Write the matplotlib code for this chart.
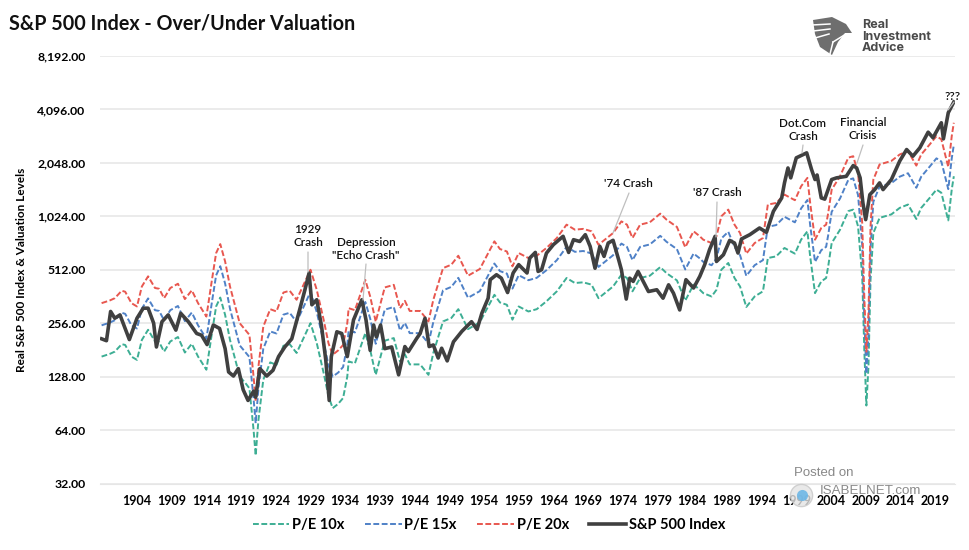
import matplotlib
matplotlib.use("Agg")
import matplotlib.pyplot as plt
from matplotlib.patches import Polygon

# Real S&P 500 index
sp_years = [
    1898.9, 1899.6, 1900.2, 1900.8, 1901.55, 1902.3, 1902.9, 1904, 1904.9, 1905.6, 1906.4, 1906.8, 1907.6, 1908.5,
    1909.6, 1910.3, 1911.4, 1912.6, 1913.3, 1914.1, 1915, 1915.9, 1916.7, 1917.2, 1917.9, 1918.6, 1919.3, 1920,
    1920.8, 1921.1, 1921.7, 1922.7, 1923.6, 1924.4, 1925.3, 1926.3, 1927.5, 1928.2, 1928.8, 1929.2, 1929.9, 1930.6,
    1931.2, 1931.7, 1932, 1932.8, 1933.5, 1934.3, 1935.2, 1936.4, 1937, 1937.6, 1938.1, 1938.5, 1939.1, 1939.7,
    1940.7, 1941.7, 1942.6, 1943.1, 1944.3, 1944.8, 1945.5, 1946.1, 1946.7, 1947.4, 1947.9, 1948.7, 1949.6, 1950.8,
    1952.2, 1953, 1953.7, 1954.6, 1954.9, 1955.8, 1956.5, 1957.4, 1958.2, 1959, 1960.2, 1960.6, 1961.4, 1961.8,
    1962.3, 1963, 1964, 1965.4, 1966.2, 1966.9, 1967.8, 1968.6, 1969.3, 1970, 1970.7, 1971.3, 1971.9, 1972.6,
    1973.4, 1973.8, 1974.5, 1975, 1975.5, 1976.2, 1977.7, 1978.9, 1979.8, 1980.6, 1981.3, 1982.2, 1983.1, 1984.2,
    1985.1, 1985.8, 1986.5, 1987.3, 1987.5, 1988.5, 1989.4, 1990.1, 1990.6, 1991.1, 1992.3, 1993.7, 1994.7, 1995.7,
    1996.9, 1997.3, 1997.8, 1998.2, 1999, 2000.5, 2001.2, 2001.7, 2002, 2002.6, 2003.1, 2004.1, 2004.8, 2006.2,
    2007.2, 2007.7, 2008.2, 2008.6, 2009, 2009.6, 2010.3, 2011, 2011.5, 2012.7, 2013.9, 2014.9, 2015.8, 2016.8,
    2018, 2018.7, 2019.9, 2020.2, 2020.9, 2021.7,
]
sp_index = [
    209, 204, 298, 273, 285, 239, 207, 273, 311, 311, 256, 188, 261, 285,
    234, 291, 261, 224, 219, 194, 250, 239, 184, 136, 129, 142, 108, 94,
    106, 98, 142, 129, 139, 166, 188, 209, 311, 395, 491, 325, 347, 245,
    159, 94, 166, 229, 224, 166, 267, 347, 267, 180, 250, 214, 250, 184,
    188, 131, 189, 177, 210, 224, 273, 189, 193, 163, 185, 157, 201, 230,
    261, 236, 292, 354, 450, 480, 459, 381, 491, 547, 491, 596, 641, 501,
    512, 635, 709, 790, 641, 756, 739, 807, 693, 522, 693, 609, 724, 750,
    584, 512, 350, 459, 440, 501, 386, 395, 354, 421, 378, 304, 450, 404,
    470, 547, 664, 790, 570, 622, 749, 724, 636, 763, 807, 880, 832, 1092,
    1300, 1580, 1917, 1686, 2186, 2332, 1879, 1650, 1750, 1300, 1280, 1650, 1686, 1720,
    1977, 1917, 1686, 1218, 981, 1357, 1448, 1580, 1448, 1650, 2096, 2435, 2233, 2490,
    3050, 2837, 3445, 2796, 3926, 4510,
]

# Valuation levels share the same sample years
pe_years = [
    1898.9, 1900.1, 1900.8, 1901.8, 1902.3, 1903.2, 1904, 1904.7, 1905.6, 1906.6, 1907.2, 1907.9, 1908.8, 1909.9,
    1910.9, 1911.9, 1912.8, 1914, 1914.8, 1915.4, 1916, 1916.7, 1917.4, 1918.1, 1918.8, 1919.6, 1920.2, 1920.8,
    1921.1, 1921.5, 1922.2, 1923.2, 1924.1, 1925.1, 1926, 1927, 1928, 1929, 1929.9, 1930.9, 1931.6, 1932.2,
    1933, 1933.7, 1934.3, 1934.5, 1935.4, 1936.9, 1937.6, 1938.4, 1939.7, 1941, 1941.9, 1942.6, 1943.3, 1944.8,
    1946, 1946.7, 1948.1, 1949.3, 1950.3, 1951.7, 1953.4, 1954.1, 1955.5, 1956.3, 1957.3, 1958.1, 1959, 1960.4,
    1961.6, 1963, 1964.5, 1965.9, 1967.1, 1968.3, 1969.5, 1970.5, 1972.6, 1973.8, 1974.6, 1975.4, 1976.5, 1977.9,
    1979.4, 1980.3, 1981.8, 1983, 1984.2, 1985.1, 1985.6, 1986.8, 1987.5, 1988.2, 1989.2, 1990.1, 1990.9, 1991.8,
    1993, 1994.2, 1994.9, 1996.1, 1997.3, 1998.8, 1999.7, 2000.6, 2001, 2001.7, 2002.6, 2003.3, 2003.6, 2004.1,
    2005.3, 2006.5, 2007.2, 2007.9, 2008.5, 2008.8, 2009.1, 2009.4, 2009.7, 2010.1, 2011, 2012.7, 2013.9, 2015.1,
    2016.3, 2017, 2018.2, 2019.2, 2019.9, 2020.9, 2021.4, 2021.7,
]
pe_20x = [
    332, 344, 354, 390, 385, 332, 318, 412, 470, 404, 400, 354, 404, 427,
    350, 392, 332, 279, 449, 635, 714, 570, 412, 325, 256, 235, 220, 128,
    93, 146, 245, 307, 298, 381, 390, 347, 421, 512, 395, 267, 197, 170,
    180, 193, 256, 311, 303, 449, 362, 261, 407, 421, 311, 342, 300, 300,
    262, 347, 523, 547, 614, 474, 517, 583, 740, 670, 649, 535, 636, 596,
    614, 679, 773, 919, 861, 870, 843, 708, 824, 959, 919, 773, 919, 948,
    1060, 981, 892, 685, 843, 790, 756, 724, 790, 1024, 1117, 919, 824, 631,
    724, 773, 1192, 1218, 1357, 1262, 1513, 1686, 1218, 756, 880, 919, 1070, 1448,
    1720, 2192, 2233, 1798, 939, 362, 177, 292, 900, 1647, 2006, 2100, 2283, 2386,
    1977, 2283, 2594, 2896, 2780, 1942, 2896, 3445,
]
pe_15x = [
    249, 258, 266, 293, 289, 249, 239, 309, 353, 303, 300, 266, 303, 320,
    263, 294, 249, 209, 337, 476, 536, 428, 309, 244, 192, 176, 165, 96,
    70, 110, 184, 230, 224, 286, 293, 260, 316, 384, 296, 200, 148, 128,
    135, 145, 192, 233, 227, 337, 272, 196, 305, 316, 233, 257, 225, 225,
    197, 260, 392, 410, 461, 356, 388, 437, 555, 503, 487, 401, 477, 447,
    461, 509, 580, 689, 646, 653, 632, 531, 618, 719, 689, 580, 689, 711,
    795, 736, 669, 514, 632, 593, 567, 543, 593, 768, 838, 689, 618, 473,
    543, 580, 894, 914, 1018, 947, 1135, 1265, 914, 567, 660, 689, 803, 1086,
    1290, 1644, 1675, 1349, 704, 272, 133, 219, 675, 1235, 1505, 1575, 1712, 1790,
    1483, 1712, 1946, 2172, 2085, 1457, 2172, 2584,
]
pe_10x = [
    166, 172, 177, 195, 193, 166, 159, 206, 235, 202, 200, 177, 202, 214,
    175, 196, 166, 140, 225, 318, 357, 285, 206, 163, 128, 118, 110, 64,
    46, 73, 123, 154, 149, 191, 195, 174, 211, 256, 198, 134, 99, 85,
    90, 97, 128, 156, 152, 225, 181, 131, 204, 211, 156, 171, 150, 150,
    131, 174, 262, 274, 307, 237, 259, 292, 370, 335, 325, 268, 318, 298,
    307, 340, 387, 460, 431, 435, 422, 354, 412, 480, 460, 387, 460, 474,
    530, 490, 446, 343, 422, 395, 378, 362, 395, 512, 559, 460, 412, 316,
    362, 387, 596, 609, 679, 631, 757, 843, 609, 378, 440, 460, 535, 724,
    860, 1096, 1117, 899, 470, 181, 88, 146, 450, 824, 1003, 1050, 1142, 1193,
    989, 1142, 1297, 1448, 1390, 971, 1448, 1722,
]

y_ticks = [32, 64, 128, 256, 512, 1024, 2048, 4096, 8192]
x_ticks = list(range(1904, 2020, 5))

# label, text position, leader start, leader end (pixels from the top left)
notes = [
    ("1929\nCrash", (308, 236), (308, 252), (308, 272)),
    ("Depression\n\"Echo Crash\"", (366, 249), (366, 264), (363, 300)),
    ("'74 Crash", (628, 184), (629, 193), (613, 233)),
    ("'87 Crash", (717, 193), (717, 202), (716, 237)),
    ("Dot.Com\nCrash", (803, 130), (803, 145), (802, 153)),
    ("Financial\nCrisis", (863, 129), (863, 145), (857, 163)),
    ("???", (953, 96), (954, 102), (948, 110)),
]

W, H = 970, 550
plt.rcParams["font.family"] = ["Lato", "DejaVu Sans"]


def fx(x):
    return x / W


def fy(y):
    return 1 - y / H


fig = plt.figure(figsize=(W / 100, H / 100), dpi=100)
ax = fig.add_axes([fx(100), fy(483.5), 855 / W, 427.5 / H])

dash = (0, (3, 1.3))
ax.plot(pe_years, pe_10x, color="#3DAE94", lw=1.4, ls=dash, label="P/E 10x")
ax.plot(pe_years, pe_15x, color="#4F81C7", lw=1.4, ls=dash, label="P/E 15x")
ax.plot(pe_years, pe_20x, color="#E8574F", lw=1.4, ls=dash, label="P/E 20x")
ax.plot(sp_years, sp_index, color="#404040", lw=2.6, label="S&P 500 Index")

ax.set_yscale("log", base=2)
ax.set_ylim(32, 8192)
ax.set_xlim(1898.67, 2021.87)
ax.set_yticks(y_ticks)
ax.set_yticklabels([f"{v:,.2f}" for v in y_ticks], fontsize=8.8, fontweight="bold")
ax.minorticks_off()
ax.set_xticks(x_ticks)
ax.set_xticklabels(x_ticks, fontsize=9, fontweight="bold")
ax.tick_params(axis="both", length=0)
ax.tick_params(axis="y", pad=10.5)
ax.tick_params(axis="x", pad=8.5)
ax.grid(axis="y", color="#E6E6E6", lw=1.1)
ax.set_axisbelow(True)
for side in ["top", "right", "left"]:
    ax.spines[side].set_visible(False)
ax.spines["bottom"].set_color("#E6E6E6")

fig.text(fx(22), fy(270), "Real S&P 500 Index & Valuation Levels", rotation=90,
         ha="center", va="center", fontsize=8.5, fontweight="bold")
fig.text(fx(9), fy(23), "S&P 500 Index - Over/Under Valuation", ha="left", va="center",
         fontsize=14.2, fontweight="bold", color="#111111")

fig.legend(loc="center", bbox_to_anchor=(fx(489), fy(525)), ncol=4, frameon=False,
           prop={"weight": "bold", "size": 10.5}, handlelength=2.5, columnspacing=1.4, handletextpad=0.2)

# callouts on the crashes
for label, text_xy, start, end in notes:
    fig.text(fx(text_xy[0]), fy(text_xy[1]), label, ha="center", va="center", fontsize=8.5,
             linespacing=1.25, color="#111111", fontweight="semibold")
    ax.annotate("", xy=(end[0], H - end[1]), xytext=(start[0], H - start[1]), xycoords="figure pixels",
                textcoords="figure pixels",
                arrowprops=dict(arrowstyle="-", color="#BFBFBF", lw=0.9, shrinkA=0, shrinkB=0))

# logo, top right
shield = [(813, 20), (832, 17), (846, 24), (852, 33), (845, 33), (838, 42), (832, 55), (820, 47), (815, 34)]
fig.add_artist(Polygon([(fx(x), fy(y)) for x, y in shield], closed=True, transform=fig.transFigure,
                       facecolor="#6E6E6E", edgecolor="none"))
for x0, y0, x1, y1 in [(812, 25, 830, 24), (813, 31, 830, 29), (815, 38, 829, 34), (846, 34, 833, 42), (833, 42, 830, 54)]:
    fig.add_artist(plt.Line2D([fx(x0), fx(x1)], [fy(y0), fy(y1)], color="white", lw=1.1, transform=fig.transFigure))
fig.text(fx(862), fy(36.5), "Real\nInvestment\nAdvice", ha="left", va="center", fontsize=9,
         fontweight="bold", color="#4A4A4A", linespacing=0.95, family="Inter")

# watermark, bottom right
fig.add_artist(plt.Line2D([fx(801)], [fy(495)], marker="o", markersize=16, color="#E4E4E4", alpha=0.8,
                          markeredgecolor="#C8C8C8", transform=fig.transFigure))
fig.add_artist(plt.Line2D([fx(802)], [fy(495)], marker="o", markersize=8, color="#6EB7E6", alpha=0.9,
                          markeredgecolor="none", transform=fig.transFigure))
fig.text(fx(824), fy(473), "Posted on", ha="center", va="center", fontsize=9.5, color="#888888",
         family="Liberation Sans")
fig.text(fx(820), fy(491), "ISABELNET.com", ha="left", va="center", fontsize=9.6, color="#8A8A8A",
         family="Liberation Sans")

fig.savefig("out.png", dpi=100, facecolor="white")
